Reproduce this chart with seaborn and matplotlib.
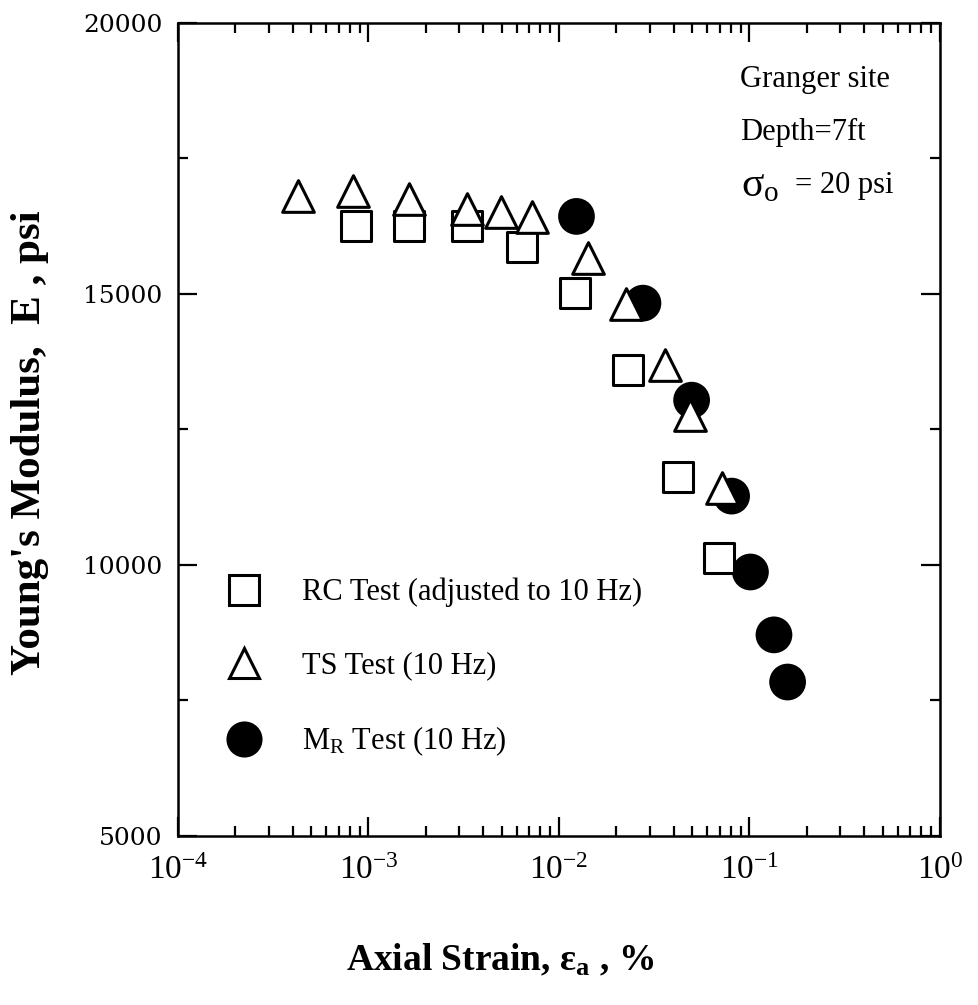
import numpy as np
import matplotlib
matplotlib.use("Agg")
import matplotlib.pyplot as plt
import seaborn as sns
from matplotlib.lines import Line2D
from matplotlib.ticker import LogLocator, MultipleLocator, NullFormatter

# Axial strain (%) and Young's modulus (psi) for each test type
rc_strain = [8.55e-4, 1.63e-3, 3.28e-3, 6.4e-3, 0.0122, 0.0229, 0.0423, 0.0694]
rc_modulus = [16250, 16250, 16250, 15870, 15020, 13600, 11630, 10130]

ts_strain = [4.27e-4, 8.25e-4, 1.63e-3, 3.28e-3, 4.96e-3, 7.2e-3,
             0.01426, 0.0226, 0.036, 0.0488, 0.0714]
ts_modulus = [16800, 16890, 16760, 16570, 16510, 16420,
              15670, 14820, 13680, 12770, 11420]

mr_strain = [0.01236, 0.0276, 0.0497, 0.0806, 0.1012, 0.1345, 0.1586]
mr_modulus = [16430, 14830, 13040, 11270, 9870, 8710, 7840]

series_labels = ["RC Test (adjusted to 10 Hz)", "TS Test (10 Hz)",
                 r"M$_{\mathregular{R}}$ Test (10 Hz)"]
y_ticks = [5000, 10000, 15000, 20000]

sns.set_style("ticks")
plt.rcParams.update({
    "font.family": ["Liberation Serif", "DejaVu Serif"],
    "mathtext.fontset": "custom",
    "mathtext.rm": "Liberation Serif",
    "mathtext.it": "Liberation Serif:italic",
    "mathtext.bf": "Liberation Serif:bold",
    "axes.linewidth": 1.8,
    "axes.edgecolor": "black",
    "text.color": "black",
    "axes.labelcolor": "black",
    "xtick.color": "black",
    "ytick.color": "black",
})

fig = plt.figure(figsize=(9.79, 10.05), dpi=100)
ax = fig.add_axes([0.1818, 0.1682, 0.7783, 0.8090])

# circles at the bottom, squares above them, triangles on top
sns.scatterplot(x=mr_strain, y=mr_modulus, marker="o", s=700, color="black",
                edgecolor="none", linewidth=0, ax=ax, zorder=3, legend=False)
sns.scatterplot(x=rc_strain, y=rc_modulus, marker="s", s=480, facecolor="white",
                edgecolor="black", linewidth=2.2, ax=ax, zorder=4, legend=False)
sns.scatterplot(x=ts_strain, y=ts_modulus, marker="^", s=520, facecolor="white",
                edgecolor="black", linewidth=2.2, ax=ax, zorder=5, legend=False)

ax.set_xscale("log")
ax.set_xlim(1e-4, 1)
ax.set_ylim(5000, 20000)
ax.set_xlabel("")
ax.set_ylabel("")

ax.xaxis.set_major_locator(LogLocator(base=10, numticks=10))
ax.xaxis.set_minor_locator(LogLocator(base=10, subs=np.arange(2, 10), numticks=20))
ax.xaxis.set_minor_formatter(NullFormatter())
ax.yaxis.set_major_locator(MultipleLocator(5000))
ax.yaxis.set_minor_locator(MultipleLocator(2500))
ax.set_yticks(y_ticks)
ax.set_yticklabels([str(v) for v in y_ticks])

ax.tick_params(which="both", direction="in", top=True, right=True,
               width=1.6, color="black")
ax.tick_params(which="major", length=14)
ax.tick_params(which="minor", length=7)
ax.tick_params(axis="x", which="major", labelsize=24, pad=14)
ax.tick_params(axis="y", which="major", labelsize=18, pad=11)
plt.setp(ax.get_yticklabels(), family="DejaVu Serif")

for sp in ax.spines.values():
    sp.set_visible(True)
    sp.set_linewidth(1.8)

handles = [
    Line2D([], [], ls="none", marker="s", ms=21, mfc="white", mec="black", mew=2.2),
    Line2D([], [], ls="none", marker="^", ms=22, mfc="white", mec="black", mew=2.2),
    Line2D([], [], ls="none", marker="o", ms=26, mfc="black", mec="black", mew=0),
]
ax.legend(handles, series_labels, loc="upper left", bbox_to_anchor=(0.0564, 0.3175),
          frameon=False, fontsize=22, handlelength=1.5, handletextpad=1.15,
          labelspacing=1.45, borderpad=0, borderaxespad=0)

ax.text(0.7375, 0.930, "Granger site", transform=ax.transAxes, fontsize=22,
        ha="left", va="center")
ax.text(0.7375, 0.8647, "Depth=7ft", transform=ax.transAxes, fontsize=22,
        ha="left", va="center")
ax.text(0.739, 0.7995, r"$\mathregular{\sigma_{o}}$", transform=ax.transAxes,
        fontsize=30, ha="left", va="center")
ax.text(0.81, 0.7995, "= 20 psi", transform=ax.transAxes, fontsize=22,
        ha="left", va="center")

fig.text(0.5107, 0.0448, r"Axial Strain, $\mathregular{\varepsilon_a}$ , %",
         fontsize=27, fontweight="bold", ha="center", va="center")
fig.text(30 / 979, 0.560, "Young's Modulus,  E , psi", rotation=90,
         fontsize=31, fontweight="bold", ha="center", va="center")

fig.savefig("out.png", dpi=100, facecolor="white")
